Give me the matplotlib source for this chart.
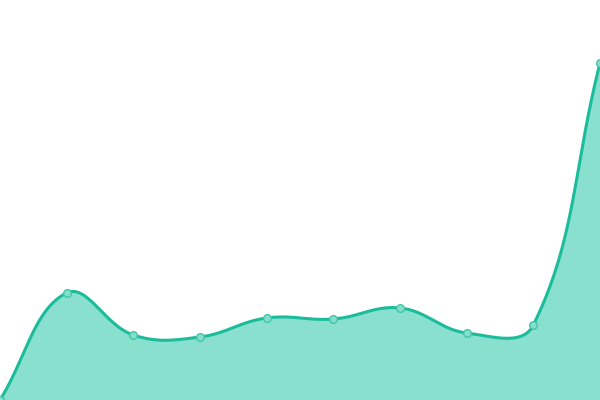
import numpy as np
import matplotlib
matplotlib.use("Agg")
import matplotlib.pyplot as plt

# values (bottom of the canvas = 0, top = 400)
labels = ["1", "2", "3", "4", "5", "6", "7", "8", "9", "10"]
values = [0, 107, 65, 63, 82, 81, 92, 67, 75, 337]

line_color = "#1abc9c"
fill_color = "#8ae0cf"


def spline_path(xs, ys, tension=0.4, steps=40):
    # same control point scheme as a Chart.js line with tension
    n = len(xs)
    pts = np.column_stack([xs, ys]).astype(float)
    c_prev = pts.copy()
    c_next = pts.copy()
    for i in range(n):
        p0 = pts[max(i - 1, 0)]
        p1 = pts[i]
        p2 = pts[min(i + 1, n - 1)]
        d01 = np.hypot(*(p1 - p0))
        d12 = np.hypot(*(p2 - p1))
        tot = d01 + d12
        s01 = d01 / tot if tot else 0
        s12 = d12 / tot if tot else 0
        c_prev[i] = p1 - tension * s01 * (p2 - p0)
        c_next[i] = p1 + tension * s12 * (p2 - p0)
    out = []
    t = np.linspace(0, 1, steps)[:, None]
    for i in range(n - 1):
        a, b, c, d = pts[i], c_next[i], c_prev[i + 1], pts[i + 1]
        seg = ((1 - t) ** 3) * a + 3 * ((1 - t) ** 2) * t * b + 3 * (1 - t) * t ** 2 * c + t ** 3 * d
        out.append(seg if i == 0 else seg[1:])
    out = np.vstack(out)
    return out[:, 0], out[:, 1]


fig = plt.figure(figsize=(6, 4), dpi=100)
ax = fig.add_axes([0, 0, 1, 1])
x = np.linspace(0, 600, len(values))
sx, sy = spline_path(x, values)

ax.fill_between(sx, 0, sy, color=fill_color, lw=0)
ax.plot(sx, sy, color=line_color, lw=2.2, solid_capstyle="round")
ax.plot(x, values, "o", ms=5.5, mfc="#86dfcc", mec="#3fc6a9", mew=1)

ax.set_xlim(0, 600)
ax.set_ylim(0, 400)
ax.axis("off")
fig.savefig("out.png", dpi=100)
